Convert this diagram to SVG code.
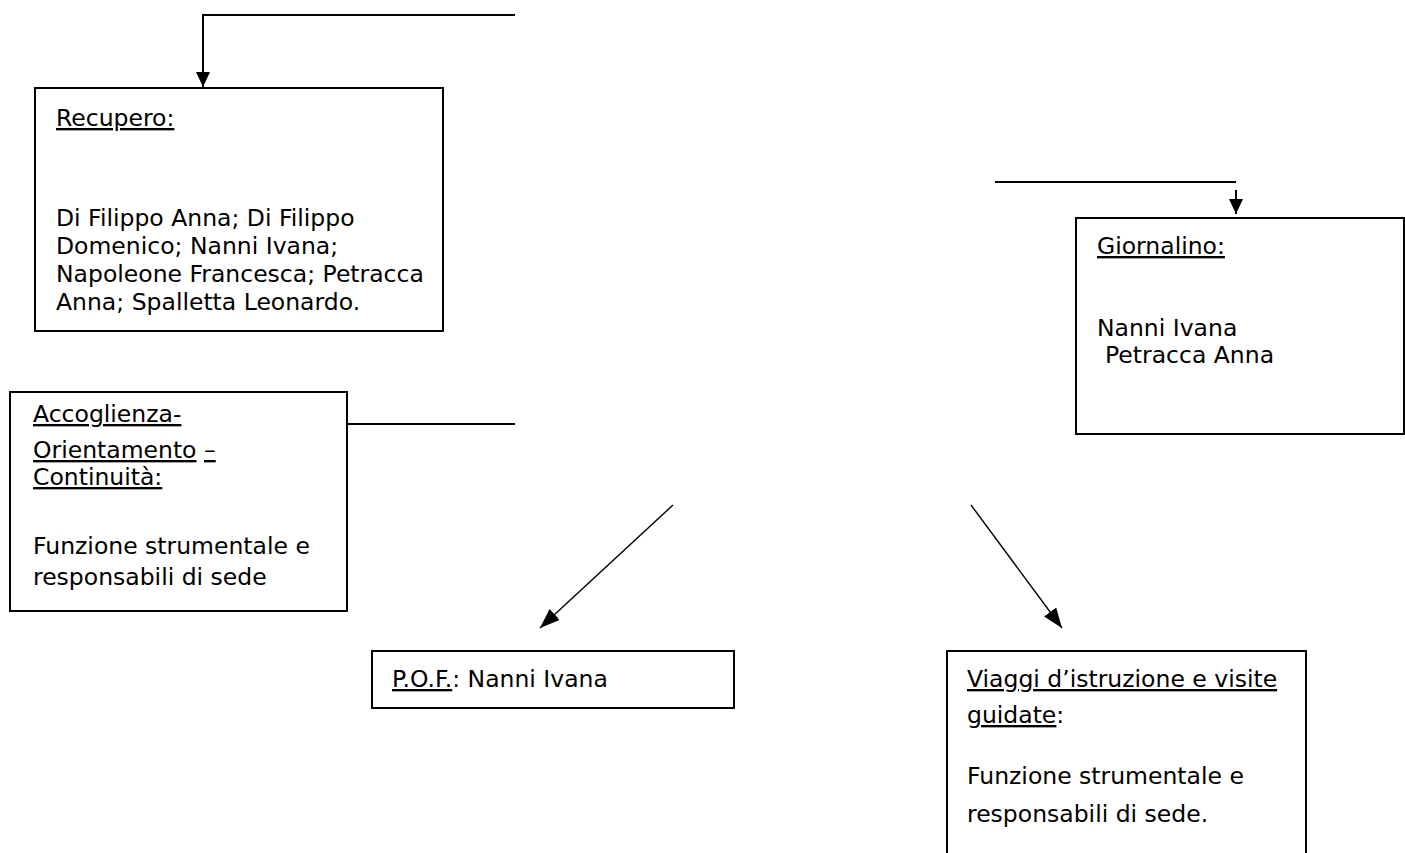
<svg xmlns="http://www.w3.org/2000/svg" width="1405" height="853" viewBox="0 0 1405 853">
<defs>
<marker id="arrL" viewBox="0 0 10 10" refX="10" refY="5" markerWidth="15" markerHeight="14" markerUnits="userSpaceOnUse" orient="auto" preserveAspectRatio="none">
<path d="M0,0 L10,5 L0,10 z" fill="#000"/>
</marker>
<marker id="arrD" viewBox="0 0 10 10" refX="10" refY="5" markerWidth="20" markerHeight="15" markerUnits="userSpaceOnUse" orient="auto" preserveAspectRatio="none">
<path d="M0,0 L10,5 L0,10 z" fill="#000"/>
</marker>
<style>
.box{fill:#fff;stroke:#000;stroke-width:2}
.t{font-family:"DejaVu Sans","Liberation Sans",sans-serif;font-size:23.5px;fill:#000}
.u{text-decoration:underline}
.c{fill:none;stroke:#000;stroke-width:2}
.d{fill:none;stroke:#000;stroke-width:1.4}
</style>
</defs>
<rect width="1405" height="853" fill="#fff"/>
<g id="connectors">
<polyline class="c" points="515,15 203,15 203,87" marker-end="url(#arrL)"/>
<line class="c" x1="995" y1="182" x2="1236" y2="182"/>
<line class="c" x1="1236" y1="190" x2="1236" y2="214" marker-end="url(#arrL)"/>
<line class="c" x1="347" y1="424" x2="515" y2="424"/>
<line class="d" x1="673" y1="505" x2="540" y2="628" marker-end="url(#arrD)"/>
<line class="d" x1="971" y1="505" x2="1062" y2="628" marker-end="url(#arrD)"/>
</g>
<g id="recupero">
<rect class="box" x="35" y="88" width="408" height="243"/>
<text class="t u" x="56" y="126">Recupero:</text>
<text class="t" x="56" y="226">Di Filippo Anna; Di Filippo</text>
<text class="t" x="56" y="254">Domenico; Nanni Ivana;</text>
<text class="t" x="56" y="282">Napoleone Francesca; Petracca</text>
<text class="t" x="56" y="310">Anna; Spalletta Leonardo.</text>
</g>
<g id="giornalino">
<rect class="box" x="1076" y="218" width="328" height="216"/>
<text class="t u" x="1097" y="254">Giornalino:</text>
<text class="t" x="1097" y="336">Nanni Ivana</text>
<text class="t" x="1105" y="363">Petracca Anna</text>
</g>
<g id="accoglienza">
<rect class="box" x="10" y="392" width="337" height="219"/>
<text class="t u" x="33" y="422">Accoglienza-</text>
<text class="t" x="33" y="458"><tspan class="u">Orientamento</tspan> <tspan class="u">–</tspan></text>
<text class="t u" x="33" y="485">Continuità:</text>
<text class="t" x="33" y="554">Funzione strumentale e</text>
<text class="t" x="33" y="585">responsabili di sede</text>
</g>
<g id="pof">
<rect class="box" x="372" y="651" width="362" height="57"/>
<text class="t" x="392" y="687"><tspan class="u">P.O.F.</tspan>: Nanni Ivana</text>
</g>
<g id="viaggi">
<rect class="box" x="947" y="651" width="359" height="215"/>
<text class="t" x="967" y="687"><tspan class="u">Viaggi d’istruzione e visite</tspan></text>
<text class="t" x="967" y="723"><tspan class="u">guidate</tspan>:</text>
<text class="t" x="967" y="784">Funzione strumentale e</text>
<text class="t" x="967" y="822">responsabili di sede.</text>
</g>
</svg>
